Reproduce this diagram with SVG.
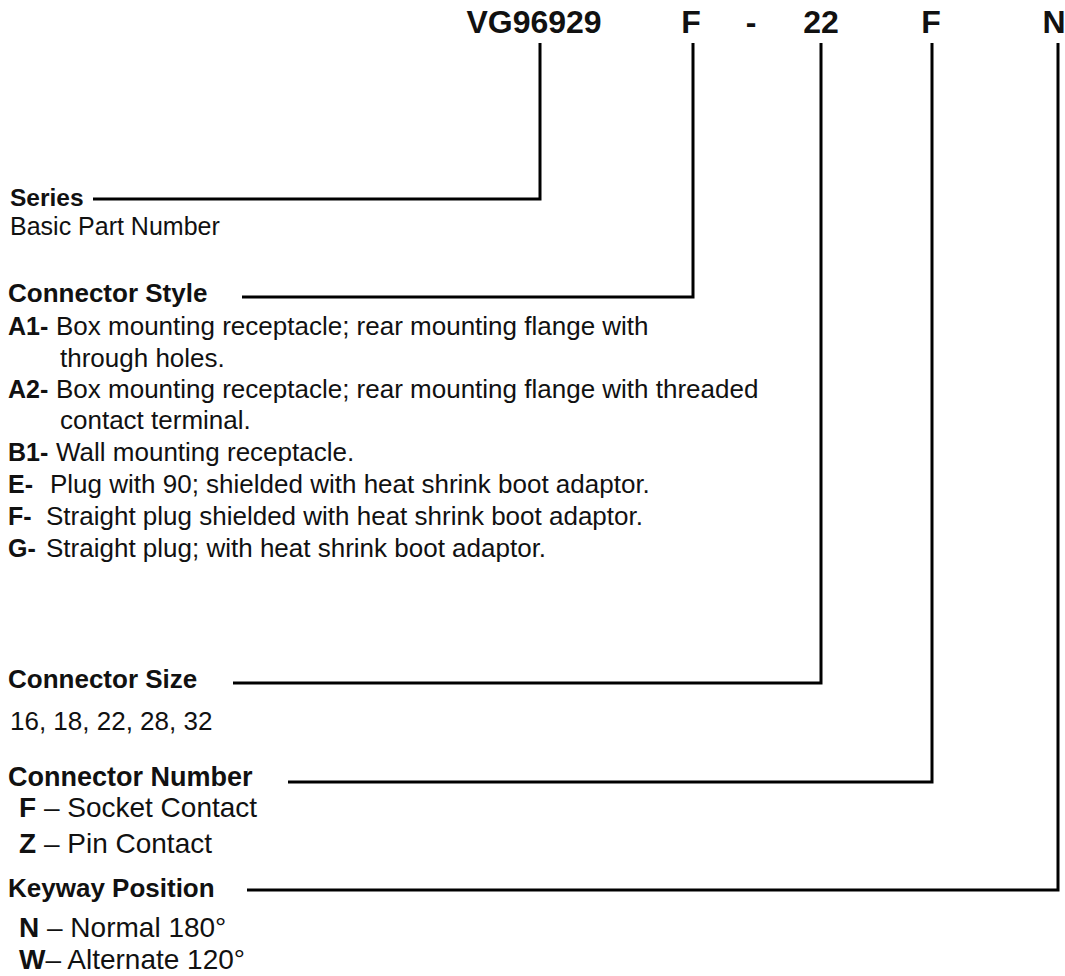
<svg xmlns="http://www.w3.org/2000/svg" width="1065" height="976" viewBox="0 0 1065 976">
<style>
text{font-family:"Liberation Sans",Arial,sans-serif;fill:#111}
.hdr{font-size:32px;font-weight:bold;text-anchor:middle}
.lbl{font-size:26px;font-weight:bold}
.txt{font-size:26px}
.big{font-size:28px}
.b{font-weight:bold}
.conn{fill:none;stroke:#000;stroke-width:3}
</style>
<rect width="1065" height="976" fill="#fff"/>
<g id="part-number">
<text class="hdr" x="534" y="33">VG96929</text>
<text class="hdr" x="691" y="33">F</text>
<text class="hdr" x="751" y="33">-</text>
<text class="hdr" x="821" y="33">22</text>
<text class="hdr" x="931" y="33">F</text>
<text class="hdr" x="1054" y="33">N</text>
</g>
<g id="connectors">
<polyline class="conn" points="540,43 540,199 93,199"/>
<polyline class="conn" points="693,43 693,297 242,297"/>
<polyline class="conn" points="821,43 821,683 233,683"/>
<polyline class="conn" points="932,43 932,782 288,782"/>
<polyline class="conn" points="1058,43 1058,890 247,890"/>
</g>
<g id="series">
<text class="lbl" x="10" y="206" style="font-size:24.5px">Series</text>
<text class="txt" x="10" y="235" style="font-size:25px">Basic Part Number</text>
</g>
<g id="connector-style">
<text class="lbl" x="8" y="302">Connector Style</text>
<text class="txt" y="335"><tspan class="b" x="8" style="font-size:25px">A1-</tspan><tspan x="56">Box mounting receptacle; rear mounting flange with</tspan></text>
<text class="txt" x="60" y="367">through holes.</text>
<text class="txt" y="398"><tspan class="b" x="8" style="font-size:25px">A2-</tspan><tspan x="56">Box mounting receptacle; rear mounting flange with threaded</tspan></text>
<text class="txt" x="60" y="429">contact terminal.</text>
<text class="txt" y="461"><tspan class="b" x="8" style="font-size:25px">B1-</tspan><tspan x="56">Wall mounting receptacle.</tspan></text>
<text class="txt" y="493"><tspan class="b" x="8" style="font-size:25px">E-</tspan><tspan x="50">Plug with 90; shielded with heat shrink boot adaptor.</tspan></text>
<text class="txt" y="525"><tspan class="b" x="8" style="font-size:25px">F-</tspan><tspan x="46">Straight plug shielded with heat shrink boot adaptor.</tspan></text>
<text class="txt" y="557"><tspan class="b" x="8" style="font-size:25px">G-</tspan><tspan x="46">Straight plug; with heat shrink boot adaptor.</tspan></text>
</g>
<g id="connector-size">
<text class="lbl" x="8" y="688">Connector Size</text>
<text class="txt" x="10" y="730">16, 18, 22, 28, 32</text>
</g>
<g id="connector-number">
<text class="lbl" x="8" y="786" style="font-size:27px">Connector Number</text>
<text class="big" y="817"><tspan class="b" x="19">F</tspan> – Socket Contact</text>
<text class="big" y="853"><tspan class="b" x="19">Z</tspan> – Pin Contact</text>
</g>
<g id="keyway-position">
<text class="lbl" x="8" y="897">Keyway Position</text>
<text class="big" y="937"><tspan class="b" x="19">N</tspan> – Normal 180°</text>
<text class="big" y="969"><tspan class="b" x="19">W</tspan>– Alternate 120°</text>
</g>
</svg>
